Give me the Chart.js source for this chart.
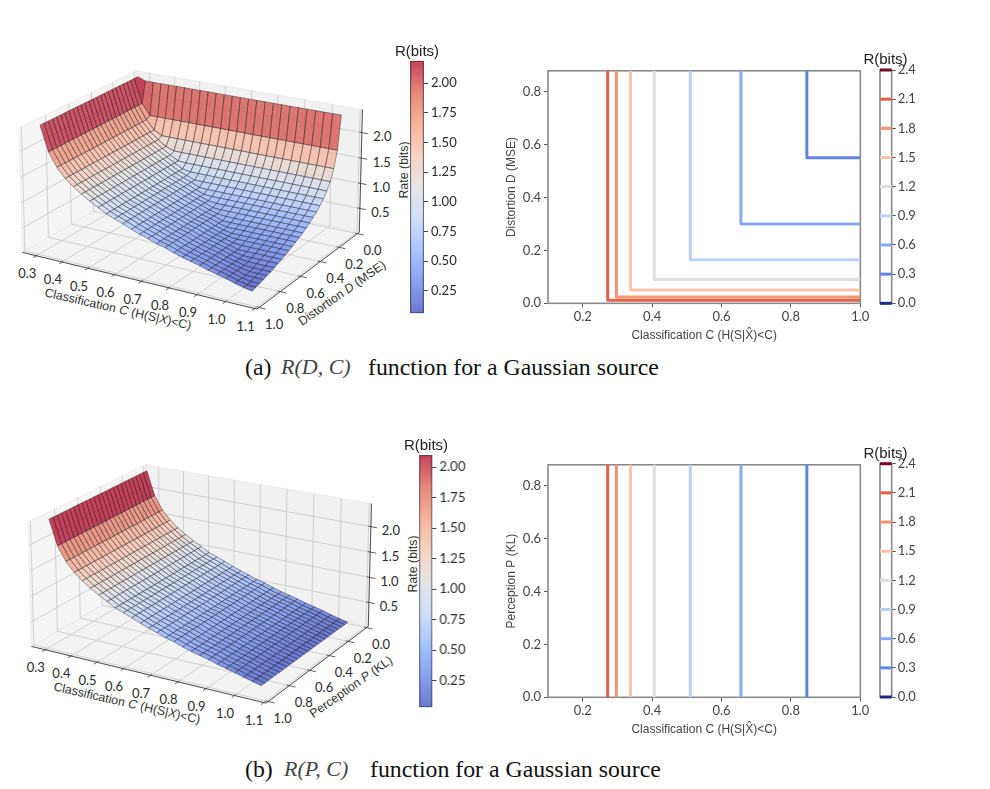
<!DOCTYPE html>
<html><head><meta charset="utf-8">
<script src="https://cdn.jsdelivr.net/npm/chart.js@4"></script>
<style>
html,body{margin:0;padding:0;background:#fff;width:990px;height:789px;overflow:hidden}
canvas{position:absolute}
.t{position:absolute;white-space:nowrap;transform:translate(-50%,-50%);color:#2a2a2a}
.n{font:13px Lato,sans-serif}
.a{font:12.4px "Liberation Sans",sans-serif;color:#333}
.h{font:15px "Liberation Sans",sans-serif;color:#222}
.c{position:absolute;white-space:nowrap;font-family:"Liberation Serif",serif;font-size:23.8px;color:#111;line-height:28px}
.m{font-style:italic;font-size:22px;color:#444}
</style></head><body>
<script>
// ---- values ----
const classificationGrid=[.26,.291,.323,.354,.385,.416,.448,.479,.51,.541,.572,.604,.635,.666,.697,.728,.76,.791,.822,.853,.884,.916,.947,.978,1.009,1.04];
const rateByClassification=[2.36,1.87,1.6,1.42,1.29,1.18,1.08,.99,.9,.84,.78,.71,.65,.6,.54,.5,.44,.39,.35,.31,.26,.22,.18,.13,.09,.05];
const distortionGrid=[0,.035,.07,.106,.141,.176,.211,.246,.282,.317,.352,.387,.422,.458,.493,.528,.563,.598,.634,.669,.704,.739,.774,.81,.845,.88];
const rateByDistortion=[2.3,1.65,1.33,1.12,.98,.87,.78,.7,.64,.58,.53,.48,.44,.4,.36,.33,.29,.26,.23,.2,.17,.15,.125,.1,.08,.06];
const perceptionGrid=[0,.035,.07,.106,.141,.176,.211,.246,.282,.317,.352,.387,.422,.458,.493,.528,.563,.598,.634,.669,.704,.739,.774,.81,.845,.88];
const contourLevels=[2.1,1.8,1.5,1.2,.9,.6,.3];
const contourClassification=[.272,.297,.338,.406,.51,.656,.846];
const contourDistortion=[.012,.024,.05,.09,.165,.3,.55];
const levelColors=['#e2614c','#f39374','#f8c5ac','#dedede','#bcd3f7','#86aafa','#5f84e6'];
const colorbarLevels=[0,.3,.6,.9,1.2,1.5,1.8,2.1,2.4];
const colorbarColors=['#1c2a85','#5f84e6','#86aafa','#bcd3f7','#dedede','#f8c5ac','#f39374','#e2614c','#7a0322'];
const classificationTicks=[.3,.4,.5,.6,.7,.8,.9,1,1.1];
const secondAxisTicks=[0,.2,.4,.6,.8,1];
const rateTicks=[.5,1,1.5,2];
// ---- style ----
const coolwarm=[[58,76,192],[98,130,234],[141,176,254],[192,212,245],[221,221,221],[245,196,173],[244,154,123],[222,96,77],[180,4,38]];
const ALPHA=.75;
function cw(t,a){t=Math.max(0,Math.min(1,t))*8;const i=Math.min(7,Math.floor(t)),f=t-i,A=coolwarm[i],B=coolwarm[i+1];
 const c=[0,1,2].map(k=>Math.round(A[k]+(B[k]-A[k])*f));return `rgba(${c[0]},${c[1]},${c[2]},${a})`;}
function el(cls,html,x,y,rot){const d=document.createElement('div');d.className='t '+cls;d.innerHTML=html;d.style.left=x+'px';d.style.top=y+'px';
 if(rot)d.style.transform=`translate(-50%,-50%) rotate(${rot}deg)`;document.body.appendChild(d);}
function canvas(l,t,w,h){const c=document.createElement('canvas');c.width=w;c.height=h;c.style.left=l+'px';c.style.top=t+'px';c.style.width=w+'px';c.style.height=h+'px';document.body.appendChild(c);return c;}
// keep a chart's plot area at the wanted page rows
function pin(ch,canvasTop,top,bottom){for(let k=0;k<4;k++){const a=ch.chartArea,p=ch.config.options.layout.padding;
 p.top+=top-(canvasTop+a.top);p.bottom+=(canvasTop+a.bottom)-bottom;ch.update('none');}}
// ---- projection fit from the drawn box corners ----
function fitProjection(pts){const n=11,M=[],Y=[];
 for(const [u,v,w,X,Yp] of pts){M.push([u,v,w,1,0,0,0,0,-X*u,-X*v,-X*w]);Y.push(X);M.push([0,0,0,0,u,v,w,1,-Yp*u,-Yp*v,-Yp*w]);Y.push(Yp);}
 const A=Array.from({length:n},()=>Array(n+1).fill(0));
 M.forEach((r,k)=>{for(let i=0;i<n;i++){for(let j=0;j<n;j++)A[i][j]+=r[i]*r[j];A[i][n]+=r[i]*Y[k];}});
 for(let i=0;i<n;i++){let p=i;for(let r=i+1;r<n;r++)if(Math.abs(A[r][i])>Math.abs(A[p][i]))p=r;[A[i],A[p]]=[A[p],A[i]];
  for(let r=0;r<n;r++)if(r!==i){const f=A[r][i]/A[i][i];for(let c=i;c<=n;c++)A[r][c]-=f*A[i][c];}}
 const s=A.map((r,i)=>r[n]/r[i]);
 return (u,v,w)=>{const d=s[8]*u+s[9]*v+s[10]*w+1;return{x:(s[0]*u+s[1]*v+s[2]*w+s[3])/d,y:(s[4]*u+s[5]*v+s[6]*w+s[7])/d};};
}
const noEvents={events:[],animation:false,responsive:false,devicePixelRatio:1};
function lineDs(points,color,width,fill){return{type:'scatter',data:points,showLine:true,borderColor:color,borderWidth:width,pointRadius:0,tension:0,fill:fill?'shape':false,backgroundColor:fill||'transparent',borderJoinStyle:'round',clip:false};}
function panel3D(cfg){
 const [dx,dy]=cfg.shift,P=fitProjection([[0,1,0,22.7,254],[1,1,0,256.7,308.3],[1,0,0,359.3,233.3],[0,1,1,19,127.3],[0,0,1,136,71.7],[1,0,1,362.7,109.3],[0,0,0,137.3,184]].map(r=>[r[0],r[1],r[2],r[3]+dx,r[4]+dy]));
 const [cMin,cMax]=cfg.cLim,[sMin,sMax]=cfg.sLim,[zMin,zMax]=cfg.zLim;
 const U=c=>(c-cMin)/(cMax-cMin),V=s=>(s-sMin)/(sMax-sMin),W=z=>(z-zMin)/(zMax-zMin);
 const ds=[];
 const pane=(a,b,c,d,col)=>ds.push(lineDs([P(...a),P(...b),P(...c),P(...d),P(...a)],'rgba(225,225,225,.9)',.6,col));
 pane([0,0,0],[0,1,0],[0,1,1],[0,0,1],'#f5f5f5');
 pane([0,0,0],[1,0,0],[1,0,1],[0,0,1],'#f1f1f1');
 pane([0,0,0],[1,0,0],[1,1,0],[0,1,0],'#f3f3f3');
 const GRID='#c9c9c9';
 classificationTicks.forEach(c=>{const u=U(c);if(u>1)return;ds.push(lineDs([P(u,1,0),P(u,0,0),P(u,0,1)],GRID,.8));});
 secondAxisTicks.forEach(s=>{const v=V(s);ds.push(lineDs([P(1,v,0),P(0,v,0),P(0,v,1)],GRID,.8));});
 rateTicks.forEach(z=>{const w=W(z);ds.push(lineDs([P(0,1,w),P(0,0,w),P(1,0,w)],GRID,.8));});
 const xs=classificationGrid,ys=cfg.sGrid;
 for(let i=0;i<xs.length-1;i++)for(let j=0;j<ys.length-1;j++){
  const corners=[[i,j],[i+1,j],[i+1,j+1],[i,j+1]];
  const zs=corners.map(([a,b])=>cfg.rate(a,b));
  const t=(zs.reduce((p,q)=>p+q,0)/4-cfg.vLim[0])/(cfg.vLim[1]-cfg.vLim[0]);
  const poly=corners.map(([a,b],k)=>P(U(xs[a]),V(ys[b]),W(zs[k])));poly.push(poly[0]);
  ds.push(lineDs(poly,'rgba(30,30,40,.7)',.6,cw(t,ALPHA)));
 }
 const DARK='#3a3a3a';
 ds.push(lineDs([P(0,1,0),P(1,1,0)],DARK,.9),lineDs([P(1,1,0),P(1,0,0)],DARK,.9),lineDs([P(1,0,0),P(1,0,1)],DARK,.9));
 classificationTicks.forEach(c=>{const u=U(c);ds.push(lineDs([P(u,.99,0),P(u,1.025,0)],DARK,.8));const p=P(u,1,0);el('n',c.toFixed(1),p.x-9,p.y+17.5);});
 secondAxisTicks.forEach(s=>{const v=V(s);ds.push(lineDs([P(.99,v,0),P(1.025,v,0)],DARK,.8));const p=P(1,v,0);el('n',s.toFixed(1),p.x+15,p.y+16.5);});
 rateTicks.forEach(z=>{const w=W(z);ds.push(lineDs([P(.99,0,w),P(1.025,0,w)],DARK,.8));const p=P(1,0,w);el('n',z.toFixed(1),p.x+20.5,p.y+3.7);});
 el('a','Classification <i>C</i> (H(S|<i>X</i>)&lt;C)',118+dx,309+dy,12.9);
 el('a',cfg.sTitle,342+dx,293+dy,-35);
 el('a','Rate (bits)',404+dx,170+dy,-90);
 const ox=dx,oy=30+dy,w=395,h=300;
 ds.reverse();
 new Chart(canvas(ox,oy,w,h),{type:'scatter',data:{datasets:ds},options:{...noEvents,layout:{padding:0},
  scales:{x:{display:false,min:ox,max:ox+w},y:{display:false,min:oy,max:oy+h,reverse:true}},plugins:{legend:{display:false},tooltip:{enabled:false}}}});
 // colour bar
 const [bl,bt,bw,bb]=cfg.bar,[v0,v1]=cfg.vLim,pad=20,axisW=50,ct=Math.floor(bt)-pad;
 const bar=new Chart(canvas(bl-6,ct,6+bw+axisW,Math.ceil(bb-bt)+2*pad+2),{type:'bar',data:{labels:[''],datasets:[{data:[[v0,v1]],barPercentage:1,categoryPercentage:1,borderWidth:1,borderColor:'#50505a',borderSkipped:false,
   backgroundColor(c){const a=c.chart.chartArea;if(!a)return'#ccc';const g=c.chart.ctx.createLinearGradient(0,a.bottom,0,a.top);for(let i=0;i<=8;i++)g.addColorStop(i/8,cw(i/8,ALPHA));return g;}}]},
  options:{...noEvents,layout:{autoPadding:false,padding:{left:6,top:pad,bottom:pad,right:0}},
   scales:{x:{display:false},y:{position:'right',min:v0,max:v1,afterFit(s){s.width=axisW;},border:{display:false},grid:{drawOnChartArea:false,tickLength:4,color:'#444'},
    ticks:{stepSize:.25,includeBounds:false,padding:3,color:'#2a2a2a',font:{family:'Lato',size:13},callback:v=>v.toFixed(2)}}},
   plugins:{legend:{display:false},tooltip:{enabled:false}}}});
 pin(bar,ct,bt,bb);
 el('h','R(bits)',bl+bw/2,cfg.titleY);
}
const frame={id:'frame',beforeDatasetsDraw(ch){const a=ch.chartArea,c=ch.ctx;c.save();c.strokeStyle='#8a8a8a';c.lineWidth=1.6;c.strokeRect(a.left,a.top,a.right-a.left,a.bottom-a.top);c.restore();}};
function contourPanel(top,yTitle,lines){
 const L=504,T=top-10,W=370,B=top+273;
 const ds=lines.map((pts,i)=>({data:pts,showLine:true,borderColor:levelColors[i],borderWidth:3,pointRadius:0,tension:0,borderJoinStyle:'round',fill:false}));
 const tickFont={family:'Lato',size:13};
 new Chart(canvas(L,T,W,B-T),{type:'scatter',data:{datasets:ds},plugins:[frame],options:{...noEvents,layout:{padding:{left:0,top:10,right:W-(860.3-L),bottom:0}},
  scales:{
   x:{min:.1,max:1,afterFit(s){s.height=39.7;},border:{display:false},grid:{drawOnChartArea:false,tickLength:4,color:'#555'},ticks:{stepSize:.2,includeBounds:false,padding:2,maxRotation:0,color:'#444',font:tickFont,callback:v=>v.toFixed(1)},
      title:{display:true,text:'Classification C (H(S|X\u0302)<C)',color:'#444',font:{family:'Liberation Sans',size:12},padding:0}},
   y:{min:0,max:.879,afterFit(s){s.width=44;},border:{display:false},grid:{drawOnChartArea:false,tickLength:4,color:'#555'},ticks:{stepSize:.2,includeBounds:false,padding:3,color:'#444',font:tickFont,callback:v=>v.toFixed(1)},
      title:{display:true,text:yTitle,color:'#444',font:{family:'Liberation Sans',size:12},padding:0}}},
  plugins:{legend:{display:false},tooltip:{enabled:false}}}});
 const cds=colorbarLevels.map((v,i)=>({data:[{x:0,y:v},{x:1,y:v}],showLine:true,borderColor:colorbarColors[i],borderWidth:3,pointRadius:0,clip:false,fill:false}));
 const ct=Math.floor(top)-20;
 const cb=new Chart(canvas(874,ct,58,276),{type:'scatter',data:{datasets:cds},plugins:[frame],options:{...noEvents,layout:{autoPadding:false,padding:{left:6,top:20,right:0,bottom:20}},
  scales:{x:{display:false,min:0,max:1},y:{position:'right',min:0,max:2.4,afterFit(s){s.width=40.3;},border:{display:false},grid:{drawOnChartArea:false,tickLength:4,color:'#555'},ticks:{stepSize:.3,padding:2,color:'#444',font:tickFont,callback:v=>v.toFixed(1)}}},
  plugins:{legend:{display:false},tooltip:{enabled:false}}}});
 pin(cb,ct,top,top+233.3);
 el('h','R(bits)',885.5,top-12);
}
panel3D({shift:[0,0],cLim:[.245,1.108],sLim:[-.02,1.02],zLim:[.02,2.45],sGrid:distortionGrid,
 rate:(i,j)=>Math.max(rateByClassification[i],rateByDistortion[j]),vLim:[.06,2.19],
 sTitle:'Distortion <i>D</i> (MSE)',bar:[410,60.7,14,313.3],titleY:50});
panel3D({shift:[8.5,394],cLim:[.245,1.108],sLim:[-.02,1.02],zLim:[.02,2.45],sGrid:perceptionGrid,
 rate:(i,j)=>rateByClassification[i],vLim:[.03,2.1],
 sTitle:'Perception <i>P</i> (KL)',bar:[419.3,455,13.4,707.3],titleY:444});
const topMax=.879;
contourPanel(70,'Distortion D (MSE)',contourClassification.map((c,i)=>[{x:c,y:topMax},{x:c,y:contourDistortion[i]},{x:1,y:contourDistortion[i]}]));
contourPanel(463.7,'Perception P (KL)',contourClassification.map(c=>[{x:c,y:topMax},{x:c,y:0}]));
function caption(top,tag,math,x0,x1,x2){for(const [h,x,cl] of [[tag,x0,''],[math,x1,'m'],['function for a Gaussian source',x2,'']]){const d=document.createElement('div');d.className='c '+cl;d.innerHTML=h;d.style.left=x+'px';d.style.top=top+'px';document.body.appendChild(d);}}
caption(353,'(a)','R(D, C)',245,281,368);
caption(755,'(b)','R(P, C)',245,284,370);
</script>
</body></html>
